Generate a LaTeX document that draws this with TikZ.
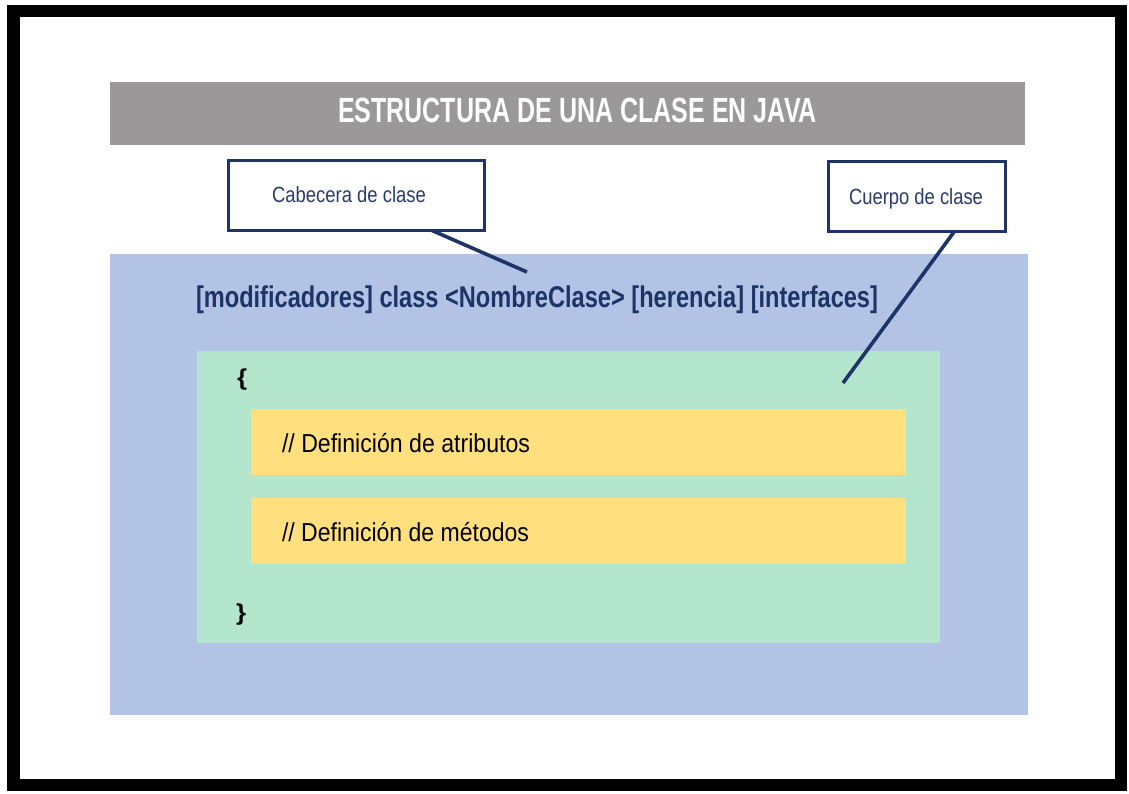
\documentclass[tikz,border=0pt]{standalone}
\usepackage{fontspec}
\setmainfont{Liberation Sans}
\usetikzlibrary{calc}
\definecolor{bargray}{HTML}{9A9899}
\definecolor{bodyblue}{HTML}{B3C3E6}
\definecolor{bodygreen}{HTML}{B3E5CC}
\definecolor{bodyyellow}{HTML}{FFDF7E}
\definecolor{navy}{HTML}{1E3466}
\definecolor{labelnavy}{HTML}{2A3C6E}
\newcommand\fitto[2]{\resizebox{#1}{\height}{#2}}
\tikzset{
  panel/.style={fill=#1, draw=none, anchor=north west, inner sep=0pt, outer sep=0pt},
  calloutbox/.style={draw=navy, line width=3pt, fill=white, anchor=north west, inner sep=0pt, outer sep=0pt},
  pointer/.style={draw=navy, line width=3.6pt},
  txt/.style={inner sep=0pt, outer sep=0pt, anchor=base west},
}
\begin{document}
\begin{tikzpicture}[x=1pt, y=-1pt]
\useasboundingbox (0,0) rectangle (1129,794);
\fill[white] (0,0) rectangle (1129,794);
% frame
\draw[line width=12.5pt, black] (13.25,11.25) rectangle (1120.75,784.75);
% title bar
\node[panel=bargray, minimum width=915pt, minimum height=63pt] (bar) at (110,82) {};
\node[txt, text=white, anchor=base] (title) at (577.5,123)
  {\fitto{479pt}{\bfseries\fontsize{35}{40}\selectfont ESTRUCTURA DE UNA CLASE EN JAVA}};
% body panels
\node[panel=bodyblue, minimum width=918pt, minimum height=461pt] (blue) at (110,254) {};
\node[panel=bodygreen, minimum width=743pt, minimum height=292pt] (green) at (197,351) {};
\node[panel=bodyyellow, minimum width=655pt, minimum height=66pt] (attr) at (251,409) {};
\node[panel=bodyyellow, minimum width=655pt, minimum height=66pt] (meth) at (251,498) {};
% header line
\node[txt, text=navy] (header) at (196,307)
  {\fitto{682pt}{\bfseries\fontsize{30}{36}\selectfont [modificadores] class <NombreClase> [herencia] [interfaces]}};
% braces
\node[txt] (open) at (237,385) {\fitto{10pt}{\bfseries\fontsize{23}{28}\selectfont \{}};
\node[txt] (close) at (236,620) {\fitto{10pt}{\bfseries\fontsize{23}{28}\selectfont \}}};
% body texts
\node[txt] (attrtxt) at (282,452)
  {\fitto{248pt}{\fontsize{26}{31}\selectfont // Definición de atributos}};
\node[txt] (methtxt) at (282,541)
  {\fitto{247pt}{\fontsize{26}{31}\selectfont // Definición de métodos}};
% callout boxes
\node[calloutbox, minimum width=256pt, minimum height=70pt] (cab) at (228.5,160.5) {};
\node[txt, text=labelnavy] (cabtxt) at (272,203)
  {\fitto{154pt}{\fontsize{22}{26}\selectfont Cabecera de clase}};
\node[calloutbox, minimum width=177pt, minimum height=70pt] (cue) at (828.5,161.5) {};
\node[txt, text=labelnavy] (cuetxt) at (849,205)
  {\fitto{134pt}{\fontsize{22}{26}\selectfont Cuerpo de clase}};
% pointers
\coordinate (cabtip) at (527,272);
\coordinate (cuetip) at (843,383);
\draw[pointer] ($(cab.south west)!0.795!(cab.south east)$) -- (cabtip);
\draw[pointer] ($(cue.south west)!0.711!(cue.south east)$) -- (cuetip);
\end{tikzpicture}
\end{document}
